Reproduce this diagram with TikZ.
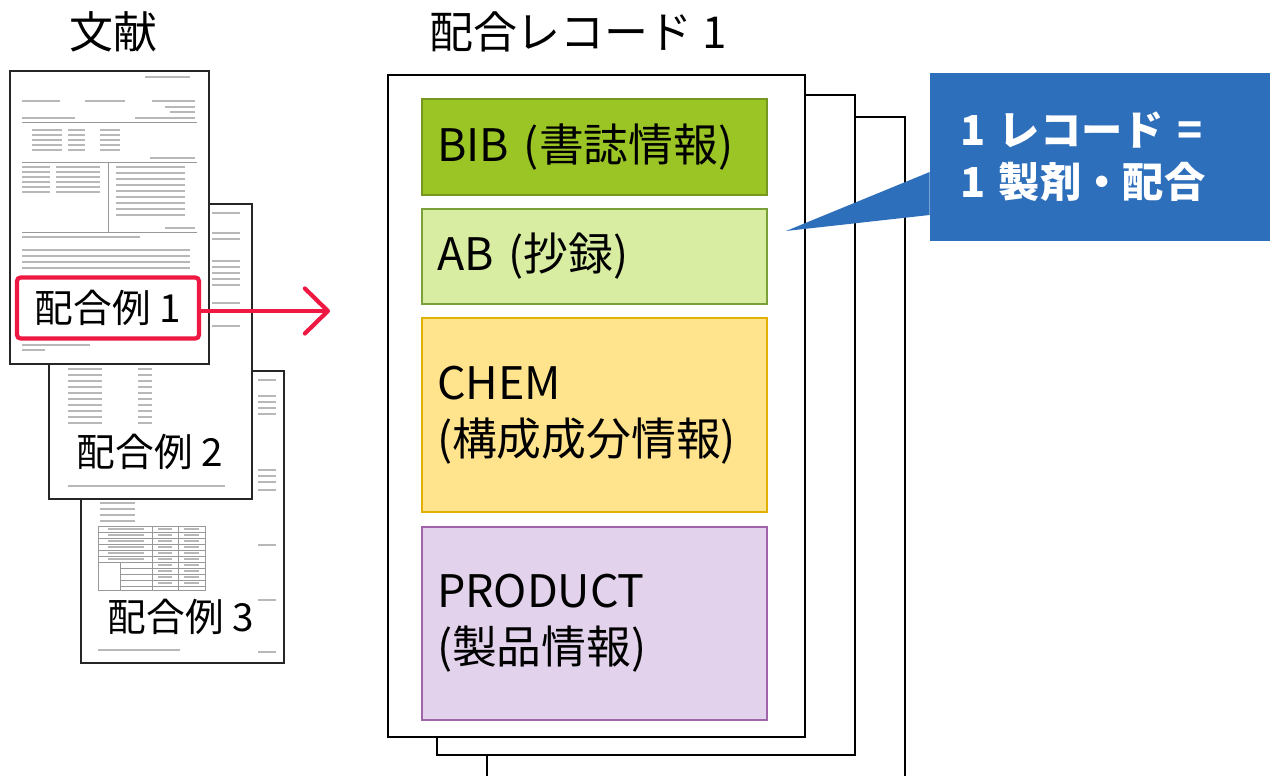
\documentclass[tikz,border=0pt]{standalone}
\usepackage{fontspec}
\setmainfont{Noto Sans CJK JP}
\usepackage{tikz}
\usetikzlibrary{arrows.meta}
\definecolor{bibfill}{RGB}{154,197,36}
\definecolor{bibedge}{RGB}{118,152,32}
\definecolor{abfill}{RGB}{216,237,162}
\definecolor{abedge}{RGB}{122,160,58}
\definecolor{chemfill}{RGB}{255,227,141}
\definecolor{chemedge}{RGB}{226,176,0}
\definecolor{prodfill}{RGB}{226,210,235}
\definecolor{prodedge}{RGB}{160,100,168}
\definecolor{callblue}{RGB}{46,111,187}
\definecolor{alertred}{RGB}{238,24,66}

\begin{document}
\begin{tikzpicture}[x=0.02cm,y=-0.02cm,
  docpage/.style={draw=black!85, line width=0.9pt, fill=white},
  recpage/.style={draw=black, line width=1.4pt, fill=white},
  txt/.style={black!28, line width=0.8pt},
  grid/.style={black!40, line width=0.4pt},
  field/.style={draw, line width=0.8pt, minimum width=6.9cm, text width=6.3cm, inner xsep=0.3cm, align=left, font=\fontsize{25.5}{32}\selectfont},
  big/.style={font=\fontsize{25}{28}\selectfont},
  example/.style={fill=white, inner sep=1pt, font=\fontsize{22}{24}\selectfont}]
\useasboundingbox (0,0) rectangle (1274,776);

\node[big] (doctitle) at (113,32) {文献};
\node[big] (rectitle) at (578,32) {配合レコード 1};

% third document page
\draw[docpage] (81,371) rectangle (284,663);
\foreach \y in {380,396,402,408,414,470,476,482,490,545,600,652}
  \draw[txt] (258,\y) -- (276,\y);
\foreach \y in {503,509,515,521}
  \draw[txt] (100,\y) -- (135,\y);
\draw[grid] (98,526) rectangle (205,590);
\foreach \y in {532,538,...,562}
  \draw[grid] (98,\y) -- (205,\y);
\foreach \y in {568,574,...,586}
  \draw[grid] (120,\y) -- (205,\y);
\draw[grid] (152,526) -- (152,590) (178,526) -- (178,590) (120,562) -- (120,590);
\foreach \y in {529,535,...,587}
  \draw[txt] (158,\y) -- (172,\y) (184,\y) -- (199,\y);
\foreach \y in {529,535,...,559}
  \draw[txt] (108,\y) -- (144,\y);
\draw[txt] (98,650) -- (180,650);

% second document page
\draw[docpage] (49,204) rectangle (252,499);
\foreach \y in {213,233,239,261,267,273,279,285,303,326}
  \draw[txt] (212,\y) -- (240,\y);
\foreach \y in {369,375,...,423}
  \draw[txt] (68,\y) -- (102,\y) (138,\y) -- (152,\y);
\draw[txt] (68,486) -- (225,486);

% first document page
\draw[docpage] (10,71) rectangle (209,364);
\draw[txt] (145,77) -- (190,77);
\draw[txt] (22,101) -- (60,101) (85,101) -- (125,101) (152,101) -- (195,101);
\draw[txt] (165,107) -- (195,107) (170,112) -- (195,112);
\draw[txt] (22,118) -- (75,118) (135,118) -- (195,118);
\draw[grid] (22,122) -- (197,122);
\foreach \y in {130,135,...,150}
  \draw[txt] (32,\y) -- (62,\y) (68,\y) -- (85,\y) (100,\y) -- (120,\y);
\draw[txt] (150,158) -- (195,158);
\draw[grid] (22,162) -- (197,162) (108,162) -- (108,232) (22,232) -- (197,232);
\foreach \y in {167,172,...,192}
  \draw[txt] (22,\y) -- (50,\y) (56,\y) -- (100,\y);
\foreach \y in {167,173,...,215}
  \draw[txt] (116,\y) -- (185,\y);
\draw[txt] (165,228) -- (195,228) (22,237) -- (140,237);
\foreach \y in {250,256,...,270}
  \draw[txt] (22,\y) -- (190,\y);
\draw[txt] (22,345) -- (90,345) (22,350) -- (45,350);

\node[example, draw=alertred, line width=2.4pt, rounded corners=2pt, minimum width=3.64cm, minimum height=1.22cm] (ex1) at (108,308) {配合例 1};
\node[example] (ex2) at (150,452) {配合例 2};
\node[example] (ex3) at (181,617) {配合例 3};

\coordinate (arr) at (330,311);
\draw[alertred, line width=2.4pt, -{Straight Barb[round, length=0.46cm, width=0.9cm]}] (ex1.east |- arr) -- (arr);

% record pages
\draw[recpage] (487,790) |- (905,117) -- (905,790);
\draw[recpage] (437,95) rectangle (855,755);
\draw[recpage] (388,75) rectangle (805,737);

\node[field, fill=bibfill, draw=bibedge, minimum height=1.92cm] (bib) at (594.5,147) {BIB (書誌情報)};
\node[field, fill=abfill, draw=abedge, minimum height=1.9cm] (ab) at (594.5,256.5) {AB (抄録)};
\node[field, fill=chemfill, draw=chemedge, minimum height=3.88cm] (chem) at (594.5,415) {CHEM\\(構成成分情報)};
\node[field, fill=prodfill, draw=prodedge, minimum height=3.86cm] (prod) at (594.5,623.5) {PRODUCT\\(製品情報)};

% callout
\node[fill=callblue, text=white, minimum width=6.8cm, minimum height=3.36cm, text width=5.6cm, inner xsep=0.6cm, align=left, font=\bfseries\fontsize{23.5}{29.5}\selectfont] (note) at (1100,157) {1 レコード =\\1 製剤・配合};
\coordinate (tip) at (786,231);
\fill[callblue] ([yshift=-0.3cm]note.west) -- (tip) -- ([yshift=-1.16cm]note.west) -- cycle;
\end{tikzpicture}
\end{document}
